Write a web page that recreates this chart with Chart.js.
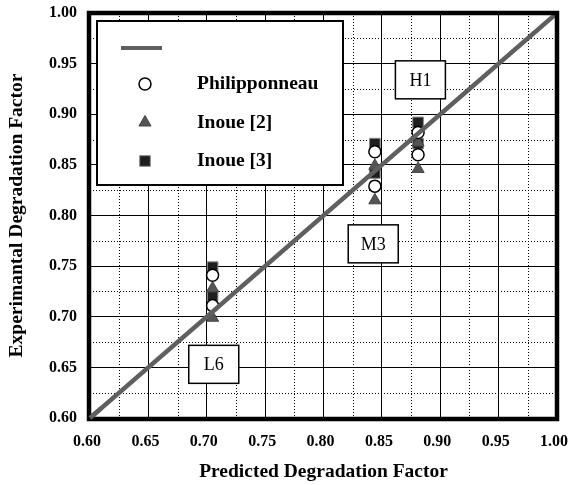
<!DOCTYPE html>
<html>
<head>
<meta charset="utf-8">
<script src="https://cdn.jsdelivr.net/npm/chart.js@4/dist/chart.umd.min.js"></script>
<style>
  html, body { margin: 0; padding: 0; background: #fff; }
  #wrap { width: 568px; height: 485px; }
</style>
</head>
<body>
<div id="wrap"><canvas id="myChart" width="568" height="485"></canvas></div>
<script>
// valores
const philX = [0.705, 0.705, 0.844, 0.844, 0.881, 0.881];
const philY = [0.741, 0.711, 0.863, 0.829, 0.882, 0.860];
const inoue2X = [0.705, 0.705, 0.844, 0.844, 0.881, 0.881];
const inoue2Y = [0.728, 0.699, 0.849, 0.815, 0.872, 0.846];
const inoue3X = [0.705, 0.705, 0.844, 0.844, 0.881, 0.881];
const inoue3Y = [0.749, 0.721, 0.871, 0.842, 0.892, 0.871];
const diagX = [0.60, 1.00];
const diagY = [0.60, 1.00];
const groupNames = ['H1', 'M3', 'L6'];
const groupX = [0.883, 0.8426, 0.706];
const groupY = [0.934, 0.772, 0.653];
const axisMin = 0.60, axisMax = 1.00, axisStep = 0.05;

const serif = '"Liberation Serif", "Times New Roman", serif';

function toPoints(xs, ys){
    return xs.map((x, i) => ({x: x, y: ys[i]}));
}

function drawMarker(ctx, style, x, y, r){
    ctx.beginPath();
    if (style === 'circle') {
        ctx.arc(x, y, r, 0, Math.PI * 2);
    } else if (style === 'triangle') {
        ctx.moveTo(x, y - r);
        ctx.lineTo(x + r * Math.sin(Math.PI / 3), y + r * 0.5);
        ctx.lineTo(x - r * Math.sin(Math.PI / 3), y + r * 0.5);
        ctx.closePath();
    } else {
        const s = Math.SQRT1_2 * r;
        ctx.rect(x - s, y - s, 2 * s, 2 * s);
    }
    ctx.fill();
    ctx.stroke();
}

const decoPlugin = {
    id: 'deco',
    beforeDatasetsDraw(chart){
        const ctx = chart.ctx;
        const a = chart.chartArea;
        const xs = chart.scales.x, ys = chart.scales.y;
        ctx.save();
        // lineas punteadas intermedias
        ctx.strokeStyle = '#000';
        ctx.lineWidth = 1;
        ctx.setLineDash([1, 2]);
        for (let v = axisMin + axisStep / 2; v < axisMax; v += axisStep) {
            const px = Math.round(xs.getPixelForValue(v)) + 0.5;
            const py = Math.round(ys.getPixelForValue(v)) + 0.5;
            ctx.beginPath();
            ctx.moveTo(px, a.top); ctx.lineTo(px, a.bottom);
            ctx.moveTo(a.left, py); ctx.lineTo(a.right, py);
            ctx.stroke();
        }
        ctx.setLineDash([]);

        // cajas H1, M3, L6
        ctx.font = '18px ' + serif;
        ctx.textAlign = 'center';
        ctx.textBaseline = 'middle';
        groupNames.forEach((name, i) => {
            const cx = xs.getPixelForValue(groupX[i]);
            const cy = ys.getPixelForValue(groupY[i]);
            ctx.fillStyle = '#fff';
            ctx.fillRect(cx - 25, cy - 19, 50, 38);
            ctx.lineWidth = 1.5;
            ctx.strokeStyle = '#000';
            ctx.strokeRect(cx - 25, cy - 19, 50, 38);
            ctx.fillStyle = '#000';
            ctx.fillText(name, cx, cy + 1);
        });

        // leyenda
        const lx = a.left + 7, ly = a.top + 8, lw = 246, lh = 164;
        ctx.fillStyle = '#fff';
        ctx.fillRect(lx, ly, lw, lh);
        ctx.lineWidth = 2;
        ctx.strokeStyle = '#000';
        ctx.strokeRect(lx, ly, lw, lh);

        const ds = chart.data.datasets;
        ctx.strokeStyle = ds[0].borderColor;
        ctx.lineWidth = 4;
        ctx.beginPath();
        ctx.moveTo(lx + 24, ly + 27); ctx.lineTo(lx + 65, ly + 27);
        ctx.stroke();

        ctx.font = 'bold 19.5px ' + serif;
        ctx.textAlign = 'left';
        const rows = [1, 2, 3];
        rows.forEach((k, i) => {
            const d = ds[k];
            const yy = ly + 63 + i * 38.5;
            ctx.fillStyle = d.backgroundColor;
            ctx.strokeStyle = d.borderColor;
            ctx.lineWidth = d.borderWidth;
            drawMarker(ctx, d.pointStyle, lx + 48, yy, d.pointRadius);
            ctx.fillStyle = '#000';
            ctx.fillText(d.label, lx + 100, yy);
        });
        ctx.restore();
    },
    afterDraw(chart){
        const ctx = chart.ctx;
        const a = chart.chartArea;
        ctx.save();
        ctx.strokeStyle = '#000';
        ctx.lineWidth = 4.5;
        ctx.strokeRect(a.left - 1, a.top, a.right - a.left + 1, a.bottom - a.top + 1);
        // la diagonal pasa por encima del marco en la esquina
        const xs = chart.scales.x, ys = chart.scales.y;
        ctx.strokeStyle = '#5f5f5f';
        ctx.lineWidth = 4.5;
        ctx.beginPath();
        ctx.moveTo(xs.getPixelForValue(diagX[0]), ys.getPixelForValue(diagY[0]));
        ctx.lineTo(xs.getPixelForValue(diagX[0] + 0.01), ys.getPixelForValue(diagY[0] + 0.01));
        ctx.stroke();
        ctx.restore();
    }
};

function iniciarApp(){
    const ctx = document.getElementById('myChart').getContext('2d');
    new Chart(ctx, {
        type: 'scatter',
        data: {
            datasets: [{
                label: '',
                data: toPoints(diagX, diagY),
                showLine: true,
                borderColor: '#5f5f5f',
                borderWidth: 4.5,
                pointRadius: 0
            }, {
                label: 'Philipponneau',
                data: toPoints(philX, philY),
                pointStyle: 'circle',
                pointRadius: 6,
                backgroundColor: '#ffffff',
                borderColor: '#000000',
                borderWidth: 1.5
            }, {
                label: 'Inoue [2]',
                data: toPoints(inoue2X, inoue2Y),
                pointStyle: 'triangle',
                pointRadius: 7,
                backgroundColor: '#555555',
                borderColor: '#444444',
                borderWidth: 1
            }, {
                label: 'Inoue [3]',
                data: toPoints(inoue3X, inoue3Y),
                pointStyle: 'rect',
                pointRadius: 7.5,
                backgroundColor: '#1e1e1e',
                borderColor: '#888888',
                borderWidth: 1
            }]
        },
        options: {
            responsive: false,
            animation: false,
            layout: { padding: { left: 0, right: 11, top: 13, bottom: 0 } },
            plugins: {
                legend: { display: false },
                tooltip: { enabled: false }
            },
            scales: {
                x: {
                    type: 'linear',
                    min: axisMin,
                    max: axisMax,
                    afterFit(scale){
                        scale.height = 67;
                        scale.paddingLeft = 0;
                        scale.paddingRight = 0;
                    },
                    ticks: {
                        stepSize: axisStep,
                        padding: 14,
                        labelOffset: -3,
                        color: '#000',
                        font: { family: serif, size: 16, weight: 'bold' },
                        callback: v => v.toFixed(2)
                    },
                    grid: { color: '#000', lineWidth: 1, drawTicks: false },
                    border: { display: false },
                    title: {
                        display: true,
                        text: 'Predicted Degradation Factor',
                        color: '#000',
                        font: { family: serif, size: 19.5, weight: 'bold' },
                        padding: { top: 0, bottom: 1 }
                    }
                },
                y: {
                    type: 'linear',
                    min: axisMin,
                    max: axisMax,
                    afterFit(scale){
                        scale.width = 90;
                        scale.paddingTop = 0;
                        scale.paddingBottom = 0;
                    },
                    ticks: {
                        stepSize: axisStep,
                        padding: 13,
                        color: '#000',
                        font: { family: serif, size: 16, weight: 'bold' },
                        callback: v => v.toFixed(2)
                    },
                    grid: { color: '#000', lineWidth: 1, drawTicks: false },
                    border: { display: false },
                    title: {
                        display: true,
                        text: 'Experimantal Degradation Factor',
                        color: '#000',
                        font: { family: serif, size: 19.5, weight: 'bold' },
                        padding: { top: 5, bottom: 0 }
                    }
                }
            }
        },
        plugins: [decoPlugin]
    });
}

document.addEventListener('DOMContentLoaded', function(){
    iniciarApp();
});
</script>
</body>
</html>
